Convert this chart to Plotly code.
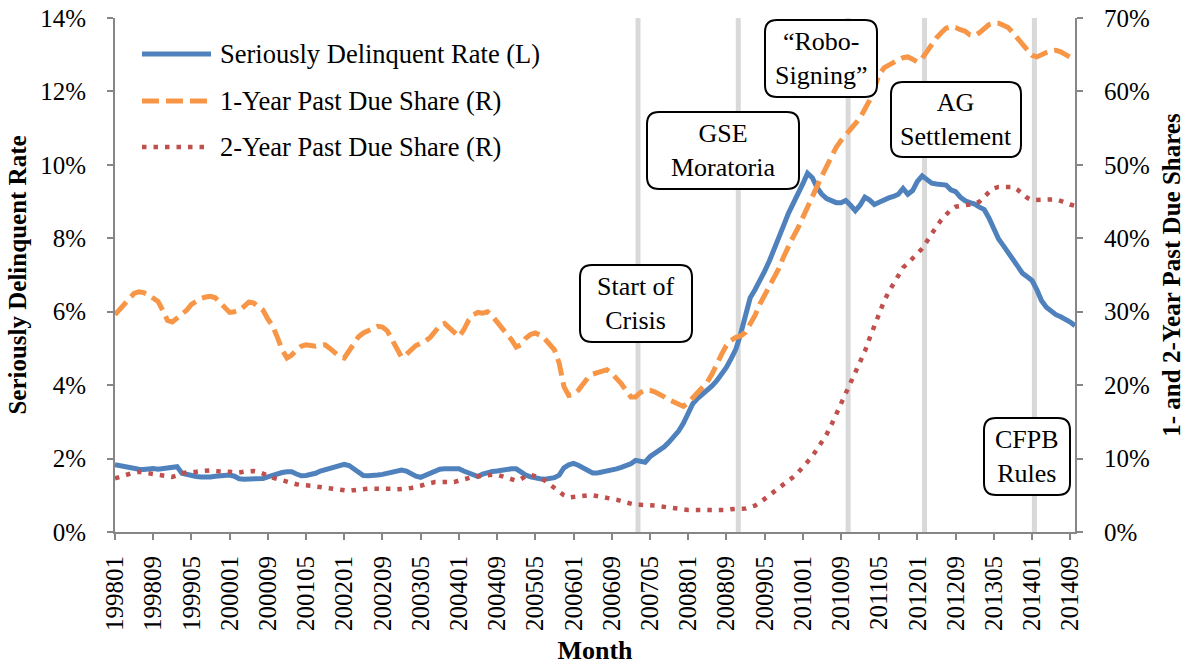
import plotly.graph_objects as go

# ---------------- data ----------------
months = [f"{1998 + i // 12}{i % 12 + 1:02d}" for i in range(202)]   # 199801 ... 201410
tick_labels = months[::8]                                              # 199801 ... 201409

# Seriously delinquent rate, % (left axis)
delinquent_rate = [
    1.83, 1.80, 1.77, 1.74, 1.72, 1.71, 1.70, 1.72, 1.73, 1.71,
    1.72, 1.74, 1.75, 1.78, 1.60, 1.56, 1.53, 1.51, 1.50, 1.49,
    1.50, 1.52, 1.53, 1.54, 1.55, 1.52, 1.45, 1.44, 1.44, 1.44,
    1.45, 1.46, 1.50, 1.55, 1.60, 1.62, 1.64, 1.64, 1.58, 1.53,
    1.54, 1.56, 1.60, 1.66, 1.70, 1.72, 1.76, 1.81, 1.84, 1.81,
    1.72, 1.62, 1.54, 1.53, 1.53, 1.55, 1.57, 1.60, 1.62, 1.66,
    1.69, 1.66, 1.58, 1.52, 1.49, 1.55, 1.60, 1.66, 1.71, 1.72,
    1.72, 1.72, 1.72, 1.66, 1.60, 1.55, 1.51, 1.58, 1.63, 1.65,
    1.66, 1.69, 1.72, 1.72, 1.72, 1.62, 1.55, 1.50, 1.46, 1.45,
    1.44, 1.45, 1.48, 1.55, 1.75, 1.83, 1.87, 1.82, 1.74, 1.66,
    1.61, 1.61, 1.63, 1.66, 1.69, 1.72, 1.76, 1.80, 1.86, 1.95,
    1.94, 1.90, 2.05, 2.14, 2.22, 2.32, 2.45, 2.60, 2.75, 2.96,
    3.25, 3.50, 3.64, 3.74, 3.86, 3.98, 4.12, 4.28, 4.48, 4.72,
    4.98, 5.40, 5.95, 6.38, 6.60, 6.83, 7.10, 7.38, 7.68, 7.98,
    8.35, 8.68, 8.93, 9.18, 9.48, 9.77, 9.65, 9.38, 9.20, 9.08,
    9.02, 8.97, 8.97, 9.03, 8.90, 8.75, 8.90, 9.12, 9.04, 8.92,
    8.98, 9.06, 9.10, 9.14, 9.20, 9.36, 9.20, 9.30, 9.55, 9.70,
    9.59, 9.50, 9.48, 9.48, 9.45, 9.32, 9.27, 9.12, 9.02, 8.97,
    8.93, 8.85, 8.78, 8.55, 8.25, 7.98, 7.80, 7.60, 7.40, 7.20,
    7.05, 6.95, 6.85, 6.60, 6.30, 6.12, 6.00, 5.92, 5.86, 5.80,
    5.72, 5.62,
]

# 1-year past due share, % (right axis)
one_year_share = [
    29.6, 30.3, 31.1, 31.9, 32.5, 32.7, 32.6, 32.3, 31.9, 31.4,
    30.2, 28.8, 28.6, 29.1, 29.6, 30.2, 31.0, 31.5, 31.8, 32.0,
    32.1, 31.9, 31.2, 30.5, 29.9, 30.0, 30.2, 30.7, 31.3, 31.2,
    30.8, 30.2, 29.0, 28.1, 26.5, 24.8, 23.7, 24.1, 24.8, 25.3,
    25.5, 25.4, 25.3, 25.4, 25.5, 25.0, 24.4, 23.9, 23.7, 24.6,
    25.7, 26.6, 27.1, 27.4, 27.7, 28.0, 27.9, 27.4, 26.2, 24.8,
    23.8, 24.2, 24.9, 25.4, 25.7, 26.0, 26.5, 27.3, 28.1, 28.4,
    27.8, 27.1, 26.6, 27.5, 28.8, 29.6, 29.9, 29.8, 30.0, 29.4,
    28.6, 27.8, 27.1, 26.2, 25.2, 25.5, 26.4, 26.9, 27.1, 26.8,
    26.3, 25.6, 24.8, 23.0, 19.8, 18.6, 18.7, 19.3, 20.3, 21.0,
    21.5, 21.7, 22.0, 22.1, 21.6, 21.0, 20.2, 19.3, 18.4, 18.4,
    19.0, 19.3, 19.3, 19.1, 18.8, 18.4, 18.0, 17.7, 17.4, 17.1,
    17.6, 18.3, 18.8, 19.6, 20.4, 21.5, 23.0, 24.2, 25.4, 26.1,
    26.5, 26.7, 27.2, 28.2, 29.5, 31.0, 32.2, 33.5, 34.7, 35.9,
    37.5, 39.0, 40.2, 41.4, 42.9, 44.4, 45.8, 47.1, 48.5, 49.8,
    51.2, 52.4, 53.3, 54.0, 54.8, 55.6, 56.4, 57.5, 58.8, 60.5,
    62.3, 63.2, 63.6, 64.0, 64.3, 64.6, 64.7, 64.4, 64.0, 64.5,
    65.5, 66.5, 67.3, 68.0, 68.6, 68.8, 68.7, 68.4, 68.2, 67.7,
    67.6, 68.0, 68.6, 69.1, 69.3, 69.3, 69.0, 68.7, 68.0, 67.2,
    66.3, 65.5, 64.9, 64.7, 65.1, 65.3, 65.5, 65.6, 65.4, 65.0,
    64.6, 64.3,
]

# 2-year past due share, % (right axis)
two_year_share = [
    7.3, 7.5, 7.8, 8.0, 8.1, 8.2, 8.1, 8.0, 7.9, 7.8,
    7.7, 7.6, 7.5, 7.7, 8.0, 8.1, 8.1, 8.2, 8.3, 8.4,
    8.4, 8.3, 8.2, 8.2, 8.2, 8.1, 8.1, 8.2, 8.3, 8.3,
    8.2, 8.0, 7.7, 7.4, 7.2, 7.0, 6.8, 6.6, 6.5, 6.4,
    6.4, 6.3, 6.2, 6.1, 6.0, 5.9, 5.8, 5.7, 5.6, 5.6,
    5.7, 5.8, 5.8, 5.9, 5.9, 5.9, 6.0, 6.0, 5.9, 5.8,
    5.8, 5.9, 6.0, 6.1, 6.3, 6.5, 6.7, 6.8, 6.8, 6.8,
    6.7, 6.8, 7.0, 7.2, 7.4, 7.5, 7.6, 7.7, 7.8, 7.8,
    7.8, 7.6, 7.4, 7.2, 7.0, 7.2, 7.6, 7.8, 7.6, 7.4,
    7.0, 6.5, 6.0, 5.6, 5.0, 4.7, 4.8, 4.9, 5.0, 5.0,
    5.0, 4.9, 4.8, 4.7, 4.5, 4.4, 4.2, 4.0, 3.9, 3.7,
    3.7, 3.7, 3.7, 3.6, 3.5, 3.4, 3.4, 3.3, 3.2, 3.0,
    3.0, 3.0, 3.0, 2.9, 2.9, 2.9, 3.0, 3.0, 3.0, 3.1,
    3.1, 3.1, 3.2, 3.4, 3.6, 4.0, 4.5, 4.9, 5.4, 5.9,
    6.5, 7.0, 7.5, 8.1, 8.8, 9.6, 10.3, 11.3, 12.3, 13.3,
    14.6, 16.0, 17.6, 18.8, 20.1, 21.5, 22.9, 24.6, 26.4, 28.1,
    29.9, 31.4, 32.7, 33.8, 35.0, 36.0, 36.6, 37.2, 37.8, 38.6,
    39.6, 40.7, 41.6, 42.5, 43.3, 43.9, 44.3, 44.4, 44.5, 44.6,
    44.7, 45.0, 45.7, 46.3, 46.8, 47.0, 47.0, 47.0, 47.0, 46.6,
    46.0, 45.5, 45.2, 45.2, 45.2, 45.3, 45.3, 45.3, 45.1, 44.8,
    44.6, 44.4,
]

series_names = ["Seriously Delinquent Rate (L)", "1-Year Past Due Share (R)", "2-Year Past Due Share (R)"]
event_names = ["Start of<br>Crisis", "GSE<br>Moratoria", "\u201cRobo-<br>Signing\u201d", "AG<br>Settlement", "CFPB<br>Rules"]
event_months = ["200702", "200811", "201010", "201202", "201401"]

# ---------------- styling ----------------
FONT = "Liberation Serif"
W, H = 1187, 665
L, R, T, B = 115, 1075, 18, 532
AXIS = "#868686"
BLUE, ORANGE, RED, GRAY = "#4F81BD", "#F79646", "#C0504D", "#D9D9D9"
ORANGE_DASH = "17px,7px"
RED_DASH = "4.5px,7px"


def px(x):
    return (x - L) / (R - L)


def py(y):
    return (B - y) / (B - T)


def rounded_box(x0, y0, x1, y1, r=12):
    def p(x, y):
        return f"{px(x):.5f},{py(y):.5f}"
    return " ".join([
        f"M {p(x0 + r, y0)}", f"L {p(x1 - r, y0)}", f"Q {p(x1, y0)} {p(x1, y0 + r)}",
        f"L {p(x1, y1 - r)}", f"Q {p(x1, y1)} {p(x1 - r, y1)}", f"L {p(x0 + r, y1)}",
        f"Q {p(x0, y1)} {p(x0, y1 - r)}", f"L {p(x0, y0 + r)}", f"Q {p(x0, y0)} {p(x0 + r, y0)}", "Z",
    ])


fig = go.Figure()
fig.add_trace(go.Scatter(x=months, y=delinquent_rate, name=series_names[0], mode="lines",
                         line=dict(color=BLUE, width=5), yaxis="y"))
fig.add_trace(go.Scatter(x=months, y=one_year_share, name=series_names[1], mode="lines",
                         line=dict(color=ORANGE, width=5, dash=ORANGE_DASH), yaxis="y2"))
fig.add_trace(go.Scatter(x=months, y=two_year_share, name=series_names[2], mode="lines",
                         line=dict(color=RED, width=4.5, dash=RED_DASH), yaxis="y2"))

shapes = []
annotations = []

# event vertical lines
for em in event_months:
    xi = months.index(em) + 0.5
    shapes.append(dict(type="line", xref="x", yref="paper", x0=xi, x1=xi, y0=0, y1=1,
                       line=dict(color=GRAY, width=5), layer="below"))

# event boxes (pixel geometry)
boxes = [
    (580, 265, 692, 342),
    (647, 112, 799, 189),
    (765, 20, 877, 97),
    (891, 82, 1021, 157),
    (984, 418, 1070, 495),
]
for (x0, y0, x1, y1), txt in zip(boxes, event_names):
    shapes.append(dict(type="path", xref="paper", yref="paper", path=rounded_box(x0, y0, x1, y1),
                       fillcolor="white", line=dict(color="black", width=2), layer="above"))
    annotations.append(dict(xref="paper", yref="paper", x=px((x0 + x1) / 2), y=py((y0 + y1) / 2),
                            text=txt, showarrow=False, xanchor="center", yanchor="middle",
                            font=dict(family=FONT, size=26, color="black")))

# manual legend
legend_rows = [
    (54, dict(color=BLUE, width=5)),
    (101, dict(color=ORANGE, width=5, dash=ORANGE_DASH)),
    (147, dict(color=RED, width=4.5, dash=RED_DASH)),
]
for (ly, lstyle), name in zip(legend_rows, series_names):
    shapes.append(dict(type="line", xref="paper", yref="paper", x0=px(142), x1=px(211),
                       y0=py(ly), y1=py(ly), line=lstyle, layer="above"))
    annotations.append(dict(xref="paper", yref="paper", x=px(218), y=py(ly), text=name,
                            showarrow=False, xanchor="left", yanchor="middle",
                            font=dict(family=FONT, size=26.5, color="black")))

fig.update_layout(
    width=W, height=H, autosize=False,
    margin=dict(l=L, r=W - R, t=T, b=H - B, autoexpand=False),
    paper_bgcolor="white", plot_bgcolor="white",
    showlegend=False,
    font=dict(family=FONT, size=25, color="black"),
    shapes=shapes, annotations=annotations,
    xaxis=dict(type="category", range=[0, 201], tickmode="array", tickvals=tick_labels,
               ticktext=tick_labels, tickangle=-90, ticks="outside", ticklen=6, tickwidth=1.5,
               tickcolor=AXIS, showline=True, linecolor=AXIS, linewidth=2, showgrid=False,
               zeroline=False, ticklabelstandoff=6, automargin=False,
               tickfont=dict(family=FONT, size=25, color="black"),
               title=dict(text="<b>Month</b>", font=dict(family=FONT, size=26, color="black"),
                          standoff=12)),
    yaxis=dict(range=[0, 14], dtick=2, ticksuffix="%", ticks="outside", ticklen=6, tickwidth=1.5,
               tickcolor=AXIS, showline=True, linecolor=AXIS, linewidth=2, showgrid=False,
               zeroline=False, ticklabelstandoff=16, automargin=False,
               tickfont=dict(family=FONT, size=25, color="black"),
               title=dict(text="<b>Seriously Delinquent Rate</b>",
                          font=dict(family=FONT, size=25, color="black"), standoff=6)),
    yaxis2=dict(range=[0, 70], dtick=10, ticksuffix="%", overlaying="y", side="right",
                ticks="outside", ticklen=6, tickwidth=1.5, tickcolor=AXIS, showline=True,
                linecolor=AXIS, linewidth=2, showgrid=False, zeroline=False, ticklabelstandoff=16,
                automargin=False,
                tickfont=dict(family=FONT, size=25, color="black"),
                title=dict(text="<b>1- and 2-Year Past Due Shares</b>",
                           font=dict(family=FONT, size=25, color="black"), standoff=14)),
)

fig.write_html("out.html", config={"displayModeBar": False, "responsive": False},
               post_script="document.body.style.margin='0px';")
